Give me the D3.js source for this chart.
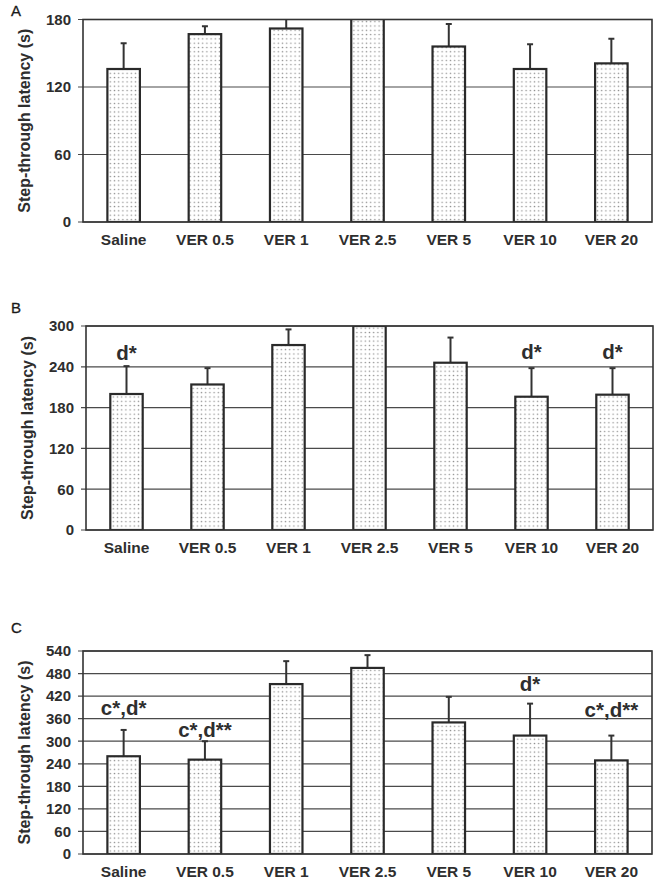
<!DOCTYPE html>
<html>
<head>
<meta charset="utf-8">
<script src="https://cdn.jsdelivr.net/npm/d3@7"></script>
<style>
  html, body { margin: 0; padding: 0; background: #ffffff; }
  svg { display: block; }
  text { font-family: "Liberation Sans", Arial, Helvetica, sans-serif; }
</style>
</head>
<body>
<svg id="chart" width="666" height="883"></svg>
<script>
// ---- Data ----
const categories = ["Saline", "VER 0.5", "VER 1", "VER 2.5", "VER 5", "VER 10", "VER 20"];

const meansA = [136, 167, 172, 185, 156, 136, 141];
const semA   = [23, 7, 9, 0, 20, 22, 22];
const ticksA = [0, 60, 120, 180];

const meansB = [200, 214, 272, 300, 246, 196, 199];
const semB   = [41, 24, 23, 0, 37, 42, 39];
const ticksB = [0, 60, 120, 180, 240, 300];
const notesB = ["d*", "", "", "", "", "d*", "d*"];
const noteYB = [250, 0, 0, 0, 0, 251, 251];

const meansC = [260, 251, 452, 495, 350, 315, 249];
const semC   = [70, 49, 61, 34, 68, 85, 66];
const ticksC = [0, 60, 120, 180, 240, 300, 360, 420, 480, 540];
const notesC = ["c*,d*", "c*,d**", "", "", "", "d*", "c*,d**"];
const noteYC = [369, 310, 0, 0, 0, 433, 365];

const panelLabels = ["A", "B", "C"];
const yTitle = "Step-through latency (s)";

// ---- Layout ----
const panels = [
  { label: panelLabels[0], means: meansA, sem: semA, ticks: ticksA, notes: null, noteY: null,
    x0: 83, x1: 652, y0: 19.5, y1: 222, labelPos: [11, 16] },
  { label: panelLabels[1], means: meansB, sem: semB, ticks: ticksB, notes: notesB, noteY: noteYB,
    x0: 86, x1: 653, y0: 326, y1: 530, labelPos: [11, 313] },
  { label: panelLabels[2], means: meansC, sem: semC, ticks: ticksC, notes: notesC, noteY: noteYC,
    x0: 83, x1: 652, y0: 651, y1: 854, labelPos: [11, 633] }
];

const svg = d3.select("#chart");

// dotted fill pattern
const defs = svg.append("defs");
const pat = defs.append("pattern")
  .attr("id", "dots")
  .attr("patternUnits", "userSpaceOnUse")
  .attr("width", 4.2).attr("height", 4.3);
pat.append("rect").attr("width", 4.2).attr("height", 4.3).attr("fill", "#ffffff");
pat.append("circle").attr("cx", 2.1).attr("cy", 2.15).attr("r", 0.75).attr("fill", "#8c8c8c");

panels.forEach((p, pi) => {
  const W = p.x1 - p.x0, H = p.y1 - p.y0;
  const g = svg.append("g").attr("transform", `translate(${p.x0},${p.y0})`);
  const maxV = p.ticks[p.ticks.length - 1];

  const x = d3.scaleBand().domain(categories).range([0, W]).paddingInner(0.6).paddingOuter(0.3);
  const y = d3.scaleLinear().domain([0, maxV]).range([H, 0]);

  defs.append("clipPath").attr("id", "clip" + pi)
    .append("rect").attr("x", 0).attr("y", 0).attr("width", W).attr("height", H);

  // gridlines
  g.append("g").selectAll("line").data(p.ticks).join("line")
    .attr("x1", -5).attr("x2", W)
    .attr("y1", d => y(d)).attr("y2", d => y(d))
    .attr("stroke", "#4a4a4a").attr("stroke-width", 1.2);

  // y axis tick labels
  const yAxis = d3.axisLeft(y).tickValues(p.ticks).tickSize(0).tickPadding(12).tickFormat(d3.format("d"));
  const ya = g.append("g").call(yAxis);
  ya.select(".domain").remove();
  ya.selectAll("text")
    .attr("font-size", 15).attr("font-weight", "bold").attr("fill", "#2e2e2e")
    .style("font-family", '"Liberation Sans", Arial, sans-serif');

  // x axis labels
  const xAxis = d3.axisBottom(x).tickSize(0).tickPadding(12);
  const xa = g.append("g").attr("transform", `translate(0,${H})`).call(xAxis);
  xa.select(".domain").remove();
  xa.selectAll("text")
    .attr("font-size", 15.5).attr("font-weight", "bold").attr("fill", "#2e2e2e")
    .style("font-family", '"Liberation Sans", Arial, sans-serif');

  const inner = g.append("g").attr("clip-path", `url(#clip${pi})`);

  const data = categories.map((c, i) => ({ c, m: p.means[i], s: p.sem[i] }));

  // error bars
  const eb = inner.append("g").selectAll("g").data(data.filter(d => d.s > 0)).join("g");
  eb.append("line")
    .attr("x1", d => x(d.c) + x.bandwidth() / 2).attr("x2", d => x(d.c) + x.bandwidth() / 2)
    .attr("y1", d => y(d.m)).attr("y2", d => y(d.m + d.s))
    .attr("stroke", "#333").attr("stroke-width", 2);
  eb.append("line")
    .attr("x1", d => x(d.c) + x.bandwidth() / 2 - 3).attr("x2", d => x(d.c) + x.bandwidth() / 2 + 3)
    .attr("y1", d => y(d.m + d.s)).attr("y2", d => y(d.m + d.s))
    .attr("stroke", "#333").attr("stroke-width", 2);

  // bars
  inner.append("g").selectAll("rect").data(data).join("rect")
    .attr("x", d => x(d.c)).attr("width", x.bandwidth())
    .attr("y", d => y(d.m)).attr("height", d => H - y(d.m))
    .attr("fill", "url(#dots)")
    .attr("stroke", "#2a2a2a").attr("stroke-width", 2.2);

  // frame
  g.append("rect").attr("x", 0).attr("y", 0).attr("width", W).attr("height", H)
    .attr("fill", "none").attr("stroke", "#333").attr("stroke-width", 1.6);

  // annotations
  if (p.notes) {
    g.append("g").selectAll("text").data(categories.map((c, i) => ({ c, t: p.notes[i], v: p.noteY[i] })).filter(d => d.t))
      .join("text")
      .attr("x", d => x(d.c) + x.bandwidth() / 2)
      .attr("y", d => y(d.v))
      .attr("text-anchor", "middle")
      .attr("font-size", 20.5).attr("font-weight", "bold").attr("fill", "#2e2e2e")
      .text(d => d.t);
  }

  // y title
  svg.append("text")
    .attr("transform", `translate(${p.x0 - 53},${(p.y0 + p.y1) / 2}) rotate(-90)`)
    .attr("text-anchor", "middle")
    .attr("font-size", 16).attr("font-weight", "bold").attr("fill", "#2e2e2e")
    .text(yTitle);

  // panel label
  svg.append("text")
    .attr("x", p.labelPos[0]).attr("y", p.labelPos[1])
    .attr("font-size", 15).attr("fill", "#1a1a1a")
    .attr("stroke", "#1a1a1a").attr("stroke-width", 0.3)
    .text(p.label);
});
</script>
</body>
</html>
